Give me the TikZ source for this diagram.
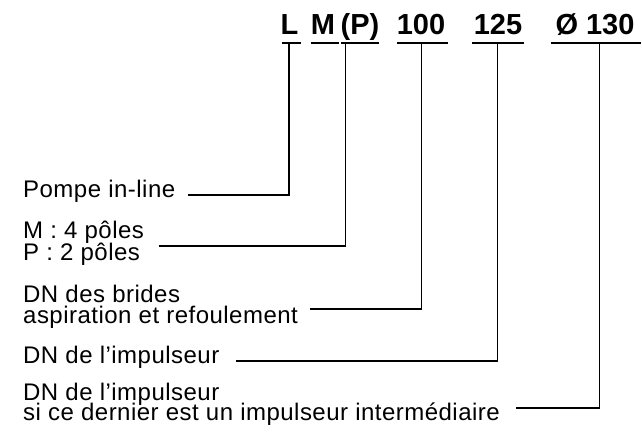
\documentclass[tikz,border=0pt]{standalone}
\usepackage{fontspec}
\setmainfont{Liberation Sans}
\newfontfamily\lblfont[LetterSpace=2]{Liberation Sans}
\begin{document}
\begin{tikzpicture}[x=1pt,y=-1pt,
  code/.style={font=\fontsize{29}{29}\selectfont\bfseries, inner sep=0pt, anchor=base},
  lbl/.style={font=\lblfont\fontsize{24}{20}\selectfont, inner sep=0pt, anchor=base west},
  ln/.style={line width=1.2pt, line cap=rect}]
\useasboundingbox (0,0) rectangle (642,432);

% codes
\node[code] (cL)   at (289.5,34) {L};
\node[code] (cM)   at (323,34) {M};
\node[code] (cP)   at (360,34) {(P)};
\node[code] (c100) at (421,34) {100};
\node[code] (c125) at (498,34) {125};
\node[code] (c130) at (595,34) {Ø 130};

% underlines
\coordinate (uLa) at (283,43);   \coordinate (uLb) at (300,43);
\coordinate (uMa) at (312,43);   \coordinate (uMb) at (338,43);
\coordinate (uPa) at (342,43);   \coordinate (uPb) at (378,43);
\coordinate (u1a) at (398,43);   \coordinate (u1b) at (447,43);
\coordinate (u2a) at (473,43);   \coordinate (u2b) at (523,43);
\coordinate (u3a) at (552,43);   \coordinate (u3b) at (640,43);
\foreach \p in {L,M,P,1,2,3}{\draw[ln] (u\p a) -- (u\p b);}

% connector tops
\coordinate (tL) at (289,43);
\coordinate (tP) at (345.5,43);
\coordinate (t1) at (421.5,43);
\coordinate (t2) at (497.5,43);
\coordinate (t3) at (599.5,43);

% labels
\node[lbl] (l1)  at (23,197.5) {Pompe in-line};
\node[lbl] (l2a) at (23,238)   {M : 4 pôles};
\node[lbl] (l2b) at (23,260)   {P : 2 pôles};
\node[lbl] (l3a) at (23,302)   {DN des brides};
\node[lbl] (l3b) at (23,323.5) {aspiration et refoulement};
\node[lbl] (l4)  at (23,363)   {DN de l’impulseur};
\node[lbl] (l5a) at (23,400.5) {DN de l’impulseur};
\node[lbl] (l5b) at (23,420)   {si ce dernier est un impulseur intermédiaire};

% connector starts
\coordinate (s1) at (189,195);
\coordinate (s2) at (160,246);
\coordinate (s3) at (311,309);
\coordinate (s4) at (237,361);
\coordinate (s5) at (517,408);

\draw[ln] (s1) -| (tL);
\draw[ln] (s2) -| (tP);
\draw[ln] (s3) -| (t1);
\draw[ln] (s4) -| (t2);
\draw[ln] (s5) -| (t3);
\end{tikzpicture}
\end{document}
